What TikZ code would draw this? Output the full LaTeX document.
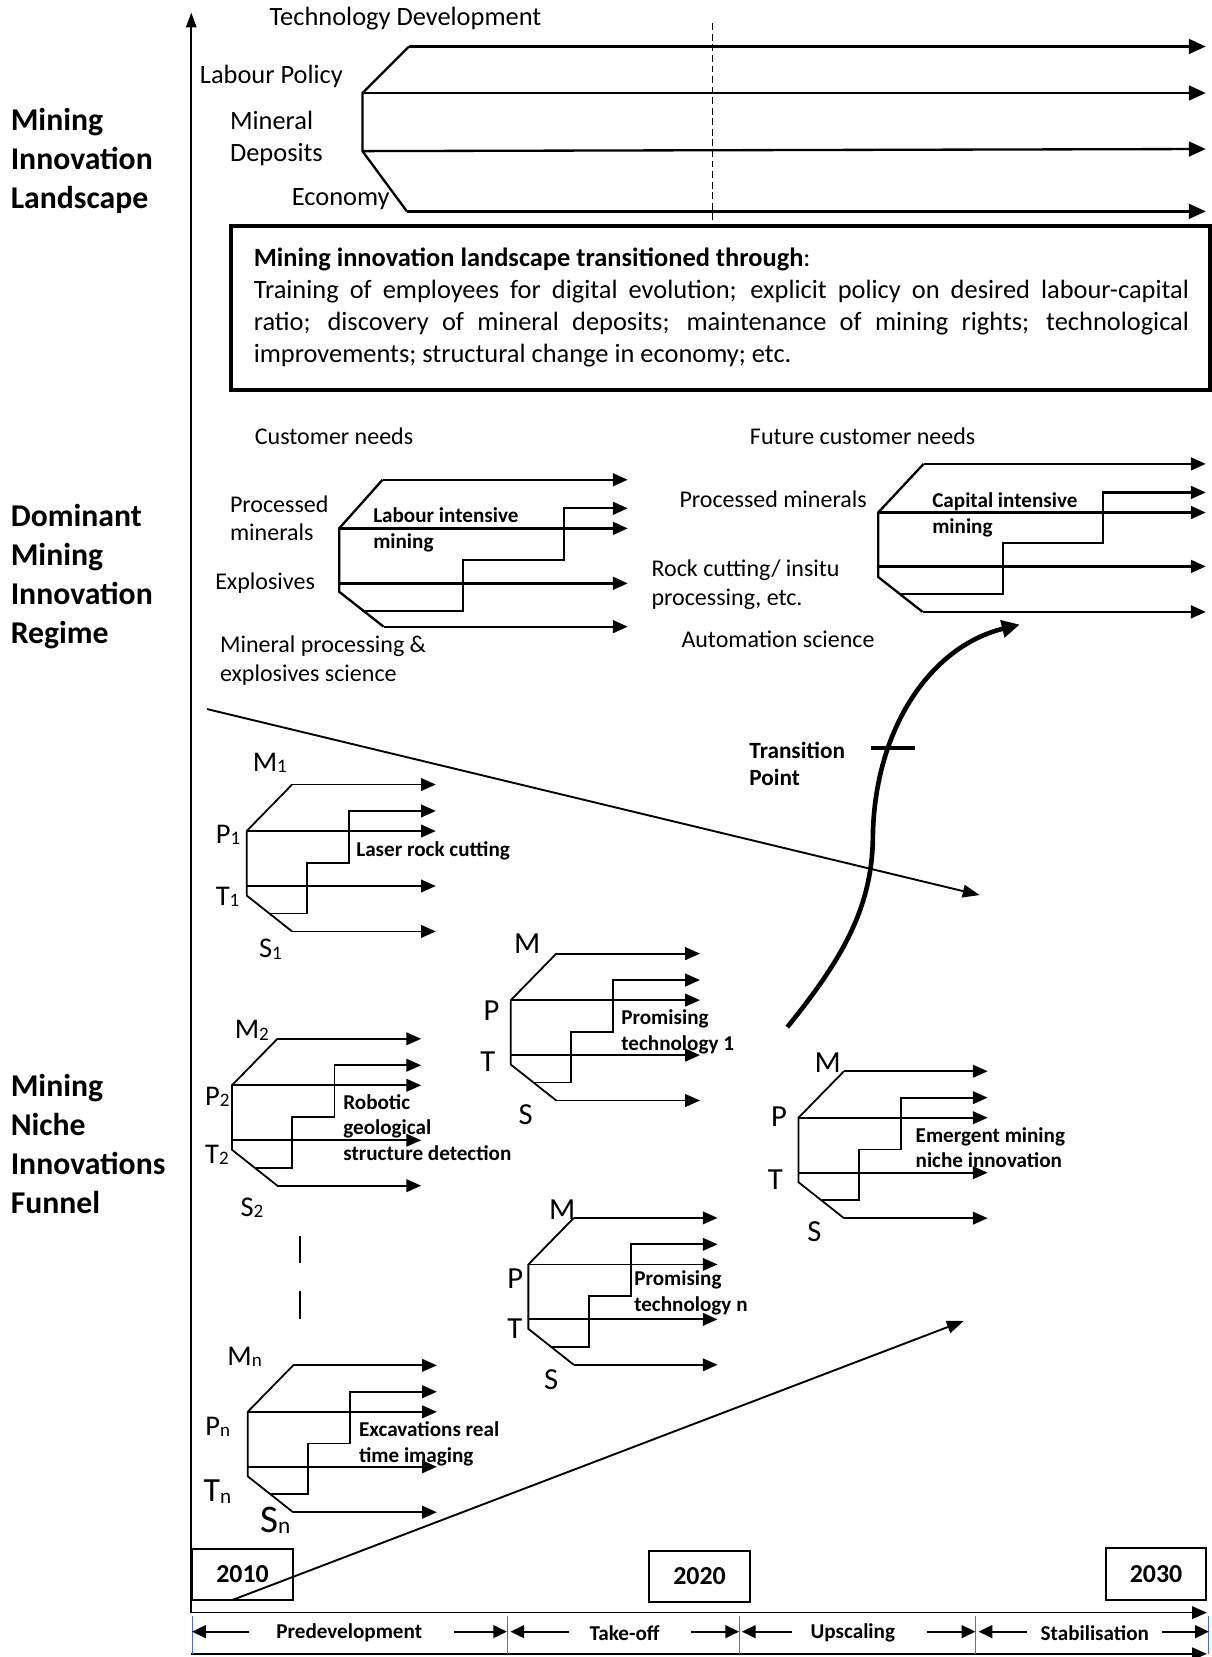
\documentclass[tikz,border=0pt]{standalone}
\usepackage{fontspec}
\setmainfont{Carlito}
\usetikzlibrary{arrows.meta}
\newcommand\sublab[3][18]{#2{\fontsize{#1}{#1}\selectfont\raisebox{-1.5pt}{#3}}}
\begin{document}
\begin{tikzpicture}[x=1pt,y=-1pt,
  arr/.style={-{Triangle[length=14pt,width=12pt]}},
  bigarr/.style={-{Triangle[length=16pt,width=14pt]}},
  thinln/.style={line width=1.7pt},
  midln/.style={line width=2.2pt},
  lnd/.style={font=\fontsize{25}{31}\selectfont, inner sep=0pt, anchor=west, align=left},
  reg/.style={font=\fontsize{22.7}{27}\selectfont, inner sep=0pt, anchor=west, align=left},
  tag/.style={font=\bfseries\fontsize{20}{24.5}\selectfont, inner sep=0pt, anchor=west, align=left},
  side/.style={font=\bfseries\fontsize{30}{37}\selectfont, inner sep=0pt, anchor=west, align=left},
  letter/.style={font=\fontsize{27}{27}\selectfont, inner sep=0pt, anchor=west},
  bigletter/.style={font=\fontsize{29}{29}\selectfont, inner sep=0pt, anchor=west},
  boxtxt/.style={font=\fontsize{25}{29.5}\selectfont, inner sep=0pt, anchor=base west},
  yearbox/.style={draw, line width=1.8pt, font=\bfseries\fontsize{24.5}{24.5}\selectfont, minimum width=95pt, minimum height=48pt},
  phase/.style={font=\bfseries\fontsize{20}{20}\selectfont, inner sep=0pt},
  parr/.style={line width=2pt, -{Triangle[length=13pt,width=12pt]}},
  divider/.style={line width=0.9pt, draw={rgb,255:red,68;green,114;blue,196}},
  trajectory/.pic={
    \coordinate (-P) at (0,0);
    \coordinate (-M) at (43,-44);
    \coordinate (-T) at (0,52);
    \coordinate (-B) at (0,61);
    \coordinate (-S) at (43,95);
    \draw[thinln] (-M) -- (-P) -- (-B) -- (-S);
    \draw[thinln,arr] (-M) -- (179,-44);
    \draw[thinln,arr] (-P) -- (179,0);
    \draw[thinln,arr] (-T) -- (179,52);
    \draw[thinln,arr] (-S) -- (179,95);
    \draw[thinln,arr] (22,78) -- (57,78) -- (57,30) -- (97,30) -- (97,-19) -- (179,-19);
  }
]
\useasboundingbox (0,0) rectangle (1146,1568);

% ---------- axes ----------
\coordinate (origin) at (181,1526);
\coordinate (ytop) at (181,12);
\coordinate (xend) at (1142,1526);
\draw[line width=1.5pt, -{Triangle[length=14pt,width=10pt]}] (origin) -- (ytop);
\draw[line width=1.6pt, arr] (origin) -- (xend);

% ---------- side headings ----------
\node[side] (hLand) at (10,152) {Mining\\Innovation\\Landscape};
\node[side] (hReg) at (10,545.5) {Dominant\\Mining\\Innovation\\Regime};
\node[side] (hNiche) at (10,1082.5) {Mining\\Niche\\Innovations\\Funnel};

% ---------- landscape ----------
\node[lnd] (techdev) at (255,18) {Technology Development};
\node[lnd] (labpol) at (189,72.6) {Labour Policy};
\node[lnd] (mindep) at (217.5,131) {Mineral\\Deposits};
\node[lnd] (econ) at (276,188.6) {Economy};
\coordinate (lTD) at (387,44);
\coordinate (lLP) at (343,88);
\coordinate (lMD) at (343,143);
\coordinate (lEC) at (385,200);
\draw[midln] (lTD) -- (lLP) -- (lMD) -- (lEC);
\draw[midln,bigarr] (lTD) -- (1141,44);
\draw[midln,bigarr] (lLP) -- (1141,88);
\draw[midln,bigarr] (lMD) -- (1141,141);
\draw[midln,bigarr] (lEC) -- (1141,200);
\coordinate (dashTop) at (674,22);
\coordinate (dashBot) at (674,212);
\draw[line width=1.3pt, dash pattern=on 6.5pt off 3.5pt] (dashTop) -- (dashBot);

\node[draw, line width=3.8pt, anchor=north west, inner sep=0pt,
      minimum width=926pt, minimum height=155pt] (landbox) at (217,212) {};
\node[boxtxt] (bt1) at (240,252) {\textbf{Mining innovation landscape transitioned through}:};
\node[boxtxt] (bt2) at (240,282) {\makebox[885pt][s]{Training of employees for digital evolution; explicit policy on desired labour-capital}};
\node[boxtxt] (bt3) at (240,312.5) {\makebox[885pt][s]{ratio; discovery of mineral deposits; maintenance of mining rights; technological}};
\node[boxtxt] (bt4) at (240,343) {improvements; structural change in economy; etc.};

% ---------- dominant regime: current ----------
\node[reg] (custneeds) at (241,413.2) {Customer needs};
\node[reg] (procmin) at (217.5,490.5) {Processed\\minerals};
\node[reg] (explos) at (203.5,551.4) {Explosives};
\node[reg] (minproc) at (208,625) {Mineral processing \&\\explosives science};
\node[tag] (labint) at (353,501) {Labour intensive\\mining};
\coordinate (rA) at (362,454);
\coordinate (rP) at (321,500);
\coordinate (rE) at (321,552);
\coordinate (rB) at (321,560);
\coordinate (rS) at (363,593);
\draw[midln] (rA) -- (rP) -- (rB) -- (rS);
\draw[midln,arr] (rA) -- (594,454);
\draw[midln,arr] (rP) -- (594,500);
\draw[midln,arr] (rE) -- (594,552);
\draw[midln,arr] (rS) -- (594,593);
\draw[midln,arr] (343,578) -- (438,578) -- (438,530) -- (534,530) -- (534,481) -- (594,481);

% ---------- dominant regime: future ----------
\node[reg] (futneeds) at (709.5,412.6) {Future customer needs};
\node[reg] (procmin2) at (642.8,472.2) {Processed minerals};
\node[reg] (rockcut) at (616.4,553.3) {Rock cutting/ insitu\\processing, etc.};
\node[reg] (autosci) at (644.7,604.7) {Automation science};
\node[tag] (capint) at (882,487.5) {Capital intensive\\mining};
\coordinate (fA) at (874,439);
\coordinate (fP) at (831,485);
\coordinate (fR) at (831,536);
\coordinate (fB) at (831,546);
\coordinate (fS) at (873,579);
\draw[midln] (fA) -- (fP) -- (fB) -- (fS);
\draw[midln,arr] (fA) -- (1141,439);
\draw[midln,arr] (fP) -- (1141,485);
\draw[midln,arr] (fR) -- (1141,536);
\draw[midln,arr] (fS) -- (1141,579);
\draw[midln,arr] (852,562) -- (949,562) -- (949,514) -- (1044,514) -- (1044,466) -- (1141,466);

% ---------- funnel lines ----------
\coordinate (downS) at (196,671);
\coordinate (downE) at (927,847);
\draw[line width=1.8pt, -{Triangle[length=16pt,width=12pt]}] (downS) -- (downE);
\coordinate (upS) at (220,1514);
\coordinate (upE) at (912,1250);
\draw[line width=1.8pt, -{Triangle[length=16pt,width=12pt]}] (upS) -- (upE);

% ---------- niche trajectories ----------
\pic (n1) at (233.4,786.4) {trajectory};
\node[letter] (m1) at (239,722) {\sublab{M}{1}};
\node[letter] (p1) at (204,790) {\sublab{P}{1}};
\node[letter] (t1) at (204,848.6) {\sublab{T}{1}};
\node[letter] (s1) at (245,898) {\sublab{S}{1}};
\node[tag] (laser) at (337,805) {Laser rock cutting};

\pic (n2) at (219.5,1027) {trajectory};
\node[letter] (m2) at (222,975) {\sublab{M}{2}};
\node[letter] (p2) at (194,1038) {\sublab{P}{2}};
\node[letter] (t2) at (194,1093) {\sublab{T}{2}};
\node[letter] (s2) at (227.5,1143) {\sublab{S}{2}};
\node[tag] (robotic) at (324.7,1067) {Robotic\\geological\\structure detection};

\coordinate (gapA1) at (284,1170);
\coordinate (gapA2) at (284,1195);
\coordinate (gapB1) at (284,1222);
\coordinate (gapB2) at (284,1248);
\draw[line width=2pt] (gapA1) -- (gapA2);
\draw[line width=2pt] (gapB1) -- (gapB2);

\pic (nn) at (234.4,1336) {trajectory};
\node[letter] (mn) at (215,1284) {\sublab{M}{n}};
\node[letter] (pn) at (194.2,1350) {\sublab{P}{n}};
\node[letter, font=\fontsize{32}{32}\selectfont] (tn) at (192.5,1411.7) {\sublab[20]{T}{n}};
\node[letter, font=\fontsize{37}{37}\selectfont] (sn) at (246,1438.5) {\sublab[22]{S}{n}};
\node[tag] (excav) at (339.6,1366.7) {Excavations real\\time imaging};

\pic (pt1) at (483.4,946.4) {trajectory};
\node[bigletter] (mp1) at (486.4,893.4) {M};
\node[bigletter] (pp1) at (457.5,956) {P};
\node[bigletter] (tp1) at (454.3,1004.7) {T};
\node[bigletter] (sp1) at (490.6,1055) {S};
\node[tag] (prom1) at (587.8,976.3) {Promising\\technology 1};

\pic (ptn) at (500,1196.5) {trajectory};
\node[bigletter] (mpn) at (519.5,1145) {M};
\node[bigletter] (ppn) at (480,1209.6) {P};
\node[bigletter] (tpn) at (480,1257) {T};
\node[bigletter] (spn) at (514.8,1306) {S};
\node[tag] (promn) at (600,1223) {Promising\\technology n};

\pic (em) at (755.6,1057.7) {trajectory};
\node[bigletter] (mem) at (770.7,1006) {M};
\node[bigletter] (pem) at (729.6,1056.8) {P};
\node[bigletter] (tem) at (726.4,1116.7) {T};
\node[bigletter] (sem) at (763.7,1165.6) {S};
\node[tag] (emerg) at (866.3,1086) {Emergent mining\\niche innovation};

% ---------- transition curve ----------
\coordinate (tcS) at (745,972);
\coordinate (tcM) at (826,790);
\coordinate (tcE) at (965,591);
\draw[line width=4.4pt, -{Triangle[length=17pt,width=16pt]}]
  (tcS) .. controls (795,910) and (826,860) .. (tcM)
        .. controls (828,690) and (880,612) .. (tcE);
\coordinate (tpL) at (824,708);
\coordinate (tpR) at (866,708);
\draw[line width=4pt] (tpL) -- (tpR);
\node[tag, font=\bfseries\fontsize{22}{26}\selectfont] (tpoint) at (709,723) {Transition\\Point};

% ---------- timeline ----------
\node[yearbox] (y2010) at (229.5,1490) {2010};
\node[yearbox] (y2020) at (662,1491.6) {2020};
\node[yearbox, minimum width=94pt, minimum height=49pt] (y2030) at (1094,1489.5) {2030};

\coordinate (baseS) at (181,1565);
\coordinate (baseE) at (1142,1565);
\draw[line width=1.6pt, arr] (baseS) -- (baseE);

\foreach \i/\x in {0/181.7,1/479.8,2/699.4,3/923,4/1144}{
  \coordinate (dv\i a) at (\x,1529);
  \coordinate (dv\i b) at (\x,1565);
  \draw[divider] (dv\i a) -- (dv\i b);
}

\node[phase] (ph1) at (330.5,1545) {Predevelopment};
\node[phase] (ph2) at (591,1545) {Take-off};
\node[phase] (ph3) at (807,1545) {Upscaling};
\node[phase] (ph4) at (1036,1545) {Stabilisation};
\draw[parr] (236,1544) -- (dv0a |- 0,1544);
\draw[parr] (430,1544) -- (dv1a |- 0,1544);
\draw[parr] (538,1544) -- (483,1544);
\draw[parr] (654,1544) -- (dv2a |- 0,1544);
\draw[parr] (749,1544) -- (702,1544);
\draw[parr] (877,1544) -- (dv3a |- 0,1544);
\draw[parr] (971.5,1544) -- (926,1544);
\draw[parr] (1100,1544) -- (dv4a |- 0,1544);
\end{tikzpicture}
\end{document}
